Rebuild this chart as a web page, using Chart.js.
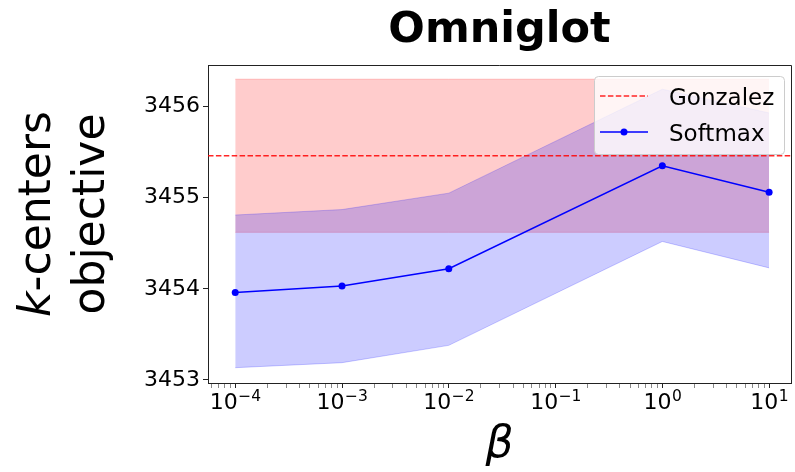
<!DOCTYPE html>
<html>
<head>
<meta charset="utf-8">
<script src="https://cdn.jsdelivr.net/npm/chart.js@4.4.1/dist/chart.umd.min.js"></script>
<style>
  html, body { margin: 0; padding: 0; background: #fff; }
</style>
</head>
<body>
<canvas id="chart" width="795" height="472"></canvas>
<script>
// values
const betas = [1e-4, 1e-3, 1e-2, 1e0, 1e1];
const softmaxMean = [3453.96, 3454.03, 3454.22, 3455.35, 3455.06];
const softmaxUpper = [3454.81, 3454.87, 3455.05, 3456.19, 3455.93];
const softmaxLower = [3453.135, 3453.19, 3453.38, 3454.52, 3454.23];
const gonzalezMean = 3455.46;
const gonzalezUpper = [3456.30, 3456.30, 3456.30, 3456.30, 3456.30];
const gonzalezLower = [3454.62, 3454.62, 3454.62, 3454.62, 3454.62];
const yTicks = [3453, 3454, 3455, 3456];
const xTickExponents = [-4, -3, -2, -1, 0, 1];
const xMin = Math.pow(10, -4.255), xMax = Math.pow(10, 1.205);
const yMin = 3452.967, yMax = 3456.456;

const FONT = '"DejaVu Sans", sans-serif';

function pts(ys) {
    return betas.map((b, i) => ({ x: b, y: ys[i] }));
}

// title, y label with italic k, 10^n tick labels, box spines and the legend
const decorations = {
    id: 'decorations',
    afterDatasetsDraw(chart) {
        const { ctx, chartArea: a } = chart;
        ctx.save();
        ctx.strokeStyle = '#222';
        ctx.lineWidth = 1;
        ctx.beginPath();
        ctx.moveTo(a.left, a.top + 0.5);
        ctx.lineTo(a.right + 0.5, a.top + 0.5);
        ctx.lineTo(a.right + 0.5, a.bottom);
        ctx.stroke();
        ctx.restore();
    },
    afterDraw(chart) {
        const { ctx, chartArea: a } = chart;
        const xs = chart.scales.x;
        ctx.save();
        ctx.fillStyle = '#000';

        // title
        ctx.font = 'bold 43px ' + FONT;
        ctx.textAlign = 'center';
        ctx.textBaseline = 'alphabetic';
        ctx.fillText('Omniglot', (a.left + a.right) / 2, 42);

        // x tick labels as 10 with a raised exponent
        ctx.textAlign = 'left';
        xTickExponents.forEach(e => {
            const px = xs.getPixelForValue(Math.pow(10, e));
            const sup = (e < 0 ? '\u2212' : '') + Math.abs(e);
            ctx.font = '22px ' + FONT;
            const wb = ctx.measureText('10').width;
            ctx.font = '15.5px ' + FONT;
            const ws = ctx.measureText(sup).width;
            const x0 = px - (wb + ws) / 2;
            ctx.font = '22px ' + FONT;
            ctx.fillText('10', x0, a.bottom + 26);
            ctx.font = '15.5px ' + FONT;
            ctx.fillText(sup, x0 + wb + 0.5, a.bottom + 18);
        });

        // y label
        ctx.save();
        ctx.translate(50, 214);
        ctx.rotate(-Math.PI / 2);
        ctx.font = 'italic 44px ' + FONT;
        const wk = ctx.measureText('k').width;
        ctx.font = '44px ' + FONT;
        const wr = ctx.measureText('-centers').width;
        const start = -(wk + wr) / 2;
        ctx.font = 'italic 44px ' + FONT;
        ctx.fillText('k', start, 0);
        ctx.font = '44px ' + FONT;
        ctx.fillText('-centers', start + wk, 0);
        ctx.restore();
        ctx.save();
        ctx.translate(104, 214);
        ctx.rotate(-Math.PI / 2);
        ctx.font = '44px ' + FONT;
        ctx.textAlign = 'center';
        ctx.fillText('objective', 0, 0);
        ctx.restore();

        // legend
        const bx = a.right - 197, by = a.top + 11, bw = 190, bh = 78;
        ctx.beginPath();
        ctx.roundRect(bx + 0.5, by + 0.5, bw, bh, 4);
        ctx.fillStyle = 'rgba(255,255,255,0.8)';
        ctx.fill();
        ctx.strokeStyle = '#cccccc';
        ctx.lineWidth = 1;
        ctx.stroke();

        const gz = chart.data.datasets[4], sm = chart.data.datasets[5];
        ctx.strokeStyle = gz.borderColor;
        ctx.lineWidth = gz.borderWidth;
        ctx.setLineDash(gz.borderDash);
        ctx.beginPath();
        ctx.moveTo(bx + 6, by + 20);
        ctx.lineTo(bx + 54, by + 20);
        ctx.stroke();
        ctx.setLineDash([]);

        ctx.strokeStyle = sm.borderColor;
        ctx.lineWidth = sm.borderWidth;
        ctx.beginPath();
        ctx.moveTo(bx + 6, by + 56);
        ctx.lineTo(bx + 54, by + 56);
        ctx.stroke();
        ctx.fillStyle = sm.pointBackgroundColor;
        ctx.beginPath();
        ctx.arc(bx + 30, by + 56, sm.pointRadius, 0, Math.PI * 2);
        ctx.fill();

        ctx.fillStyle = '#000';
        ctx.font = '23px ' + FONT;
        ctx.textAlign = 'left';
        ctx.fillText(gz.label, bx + 75, by + 29);
        ctx.fillText(sm.label, bx + 75, by + 65);
        ctx.restore();
    }
};

new Chart(document.getElementById('chart'), {
    type: 'line',
    data: {
        datasets: [
            {
                label: 'gonzalez upper',
                data: pts(gonzalezUpper),
                borderColor: 'rgba(255,0,0,0.2)',
                borderWidth: 1,
                pointRadius: 0,
                fill: false,
                order: 6
            },
            {
                label: 'gonzalez lower',
                data: pts(gonzalezLower),
                borderColor: 'rgba(255,0,0,0.2)',
                backgroundColor: 'rgba(255,0,0,0.2)',
                borderWidth: 1,
                pointRadius: 0,
                fill: 0,
                order: 5
            },
            {
                label: 'softmax upper',
                data: pts(softmaxUpper),
                borderColor: 'rgba(0,0,255,0.2)',
                borderWidth: 1,
                pointRadius: 0,
                fill: false,
                order: 4
            },
            {
                label: 'softmax lower',
                data: pts(softmaxLower),
                borderColor: 'rgba(0,0,255,0.2)',
                backgroundColor: 'rgba(0,0,255,0.2)',
                borderWidth: 1,
                pointRadius: 0,
                fill: 2,
                order: 3
            },
            {
                label: 'Gonzalez',
                data: [{ x: xMin, y: gonzalezMean }, { x: xMax, y: gonzalezMean }],
                borderColor: 'rgba(255,0,0,0.85)',
                borderWidth: 1.5,
                borderDash: [5.5, 2.4],
                pointRadius: 0,
                fill: false,
                order: 1
            },
            {
                label: 'Softmax',
                data: pts(softmaxMean),
                borderColor: '#0000ff',
                backgroundColor: '#0000ff',
                pointBackgroundColor: '#0000ff',
                borderWidth: 1.5,
                pointRadius: 3.5,
                pointBorderWidth: 0,
                fill: false,
                order: 0
            }
        ]
    },
    options: {
        responsive: false,
        animation: false,
        devicePixelRatio: 1,
        layout: { padding: { top: 65, right: 1, left: 0, bottom: 0 } },
        plugins: {
            legend: { display: false },
            title: { display: false },
            tooltip: { enabled: false }
        },
        scales: {
            x: {
                type: 'logarithmic',
                min: xMin,
                max: xMax,
                afterBuildTicks(scale) {
                    const ticks = [];
                    for (let e = -5; e <= 1; e++) {
                        for (let m = 1; m <= 9; m++) {
                            const v = m * Math.pow(10, e);
                            if (v >= xMin && v <= xMax) ticks.push({ value: v, major: m === 1 });
                        }
                    }
                    scale.ticks = ticks;
                },
                afterFit(scale) { scale.height = 89; },
                ticks: {
                    autoSkip: false,
                    maxRotation: 0,
                    padding: 3,
                    color: '#000',
                    font: { family: FONT, size: 22 },
                    callback: () => ''
                },
                grid: {
                    drawOnChartArea: false,
                    tickLength: 5,
                    tickColor: ctx => ctx.tick && ctx.tick.major ? '#222' : '#888',
                    tickWidth: 1
                },
                border: { display: true, color: '#222', width: 1 },
                title: {
                    display: true,
                    text: '\u03B2',
                    color: '#000',
                    font: { family: FONT, size: 44, style: 'italic', lineHeight: 1 },
                    padding: { top: 0, bottom: 4 }
                }
            },
            y: {
                type: 'linear',
                min: yMin,
                max: yMax,
                afterBuildTicks(scale) {
                    scale.ticks = yTicks.map(v => ({ value: v }));
                },
                afterFit(scale) { scale.width = 208; },
                ticks: {
                    padding: 3,
                    color: '#000',
                    font: { family: FONT, size: 22 },
                    callback: value => String(value)
                },
                grid: {
                    drawOnChartArea: false,
                    tickLength: 5,
                    tickColor: '#222',
                    tickWidth: 1
                },
                border: { display: true, color: '#222', width: 1 }
            }
        }
    },
    plugins: [decorations]
});
</script>
</body>
</html>
